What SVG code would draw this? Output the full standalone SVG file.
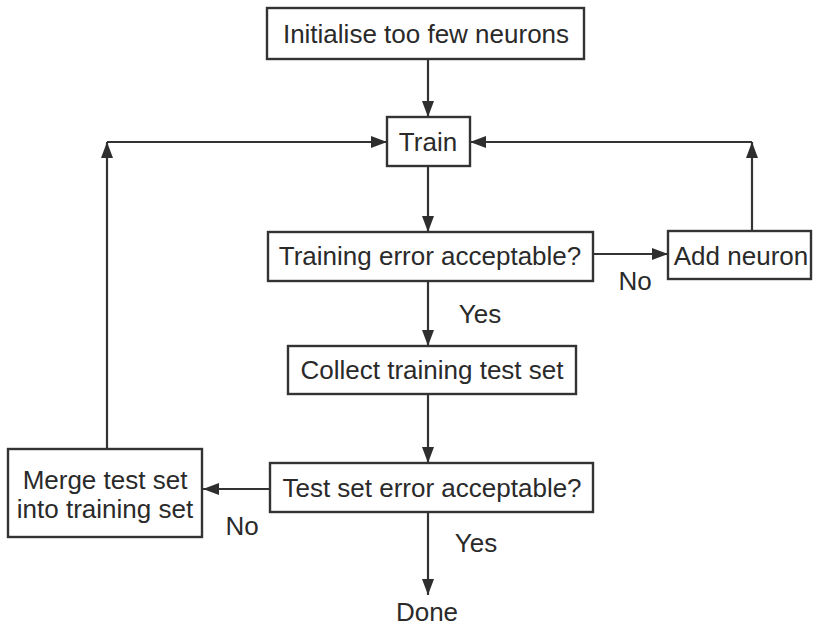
<svg xmlns="http://www.w3.org/2000/svg" width="822" height="626" viewBox="0 0 822 626">
  <defs>
    <marker id="arrow" markerUnits="userSpaceOnUse" markerWidth="18" markerHeight="14" refX="16" refY="7" orient="auto">
      <path d="M0,1 L16,7 L0,13 Z" fill="#2e2e2e"/>
    </marker>
    <style>
      .box { fill: #ffffff; stroke: #333333; stroke-width: 2.4; }
      .edge { fill: none; stroke: #333333; stroke-width: 2.2; marker-end: url(#arrow); }
      text { font-family: "Liberation Sans", Arial, Helvetica, sans-serif; font-size: 26px; fill: #2a2a2a; }
      .c { text-anchor: middle; }
    </style>
  </defs>

  <rect width="822" height="626" fill="#ffffff"/>

  <!-- connectors -->
  <g id="connectors">
    <path class="edge" d="M428,59 V117"/>
    <path class="edge" d="M428,166 V232"/>
    <path class="edge" d="M593,254 H668"/>
    <path class="edge" d="M752,231 V142"/>
    <path class="edge" d="M752,142 H470"/>
    <path class="edge" d="M428,281 V346"/>
    <path class="edge" d="M428,394 V463"/>
    <path class="edge" d="M270,489 H203"/>
    <path class="edge" d="M107,449 V142"/>
    <path class="edge" d="M107,142 H387"/>
    <path class="edge" d="M428,512 V595"/>
    <text x="635" y="290" class="c">No</text>
    <text x="480" y="323" class="c">Yes</text>
    <text x="242" y="535" class="c">No</text>
    <text x="476" y="552" class="c">Yes</text>
  </g>

  <g id="init">
    <rect class="box" x="267" y="8" width="317" height="51"/>
    <text x="426" y="43" class="c">Initialise too few neurons</text>
  </g>

  <g id="train">
    <rect class="box" x="387" y="117" width="83" height="49"/>
    <text x="428" y="151" class="c">Train</text>
  </g>

  <g id="training-error">
    <rect class="box" x="268" y="232" width="325" height="49"/>
    <text x="430" y="265" class="c">Training error acceptable?</text>
  </g>

  <g id="add-neuron">
    <rect class="box" x="668" y="231" width="143" height="48"/>
    <text x="741" y="265" class="c">Add neuron</text>
  </g>

  <g id="collect">
    <rect class="box" x="288" y="346" width="288" height="48"/>
    <text x="432" y="379" class="c">Collect training test set</text>
  </g>

  <g id="test-error">
    <rect class="box" x="270" y="463" width="323" height="49"/>
    <text x="432" y="497" class="c">Test set error acceptable?</text>
  </g>

  <g id="merge">
    <rect class="box" x="8" y="449" width="194" height="88"/>
    <text x="105" y="489" class="c">Merge test set</text>
    <text x="105" y="518" class="c">into training set</text>
  </g>

  <g id="done">
    <text x="427" y="621" class="c">Done</text>
  </g>
</svg>
